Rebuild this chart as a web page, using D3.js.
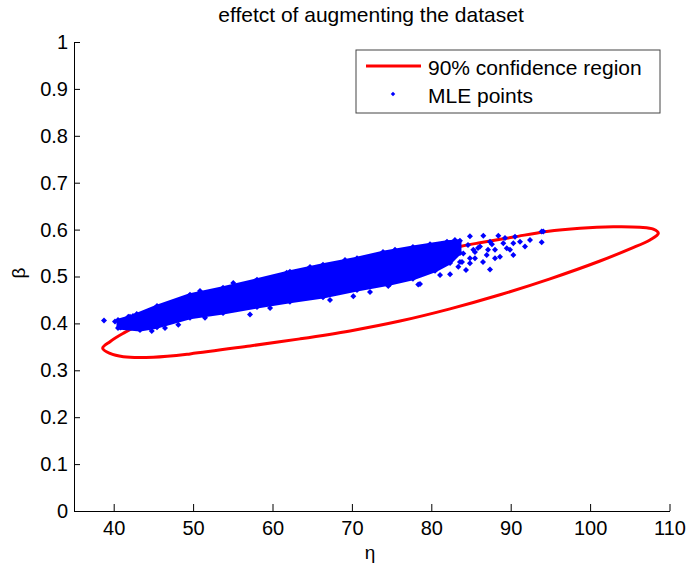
<!DOCTYPE html>
<html lang="en">
<head>
<meta charset="UTF-8">
<title>effetct of augmenting the dataset</title>
<script src="https://d3js.org/d3.v7.min.js"></script>
<style>
  body { margin: 0; background: #fff; }
  text { font-family: "Liberation Sans", Arial, Helvetica, sans-serif; fill: #000; }
</style>
</head>
<body>
<script>
// ---- data ----
var xTicks = [40, 50, 60, 70, 80, 90, 100, 110];
var yTicks = [0, 0.1, 0.2, 0.3, 0.4, 0.5, 0.6, 0.7, 0.8, 0.9, 1];
var legendLabels = ["90% confidence region", "MLE points"];

// 90% confidence region outline (eta, beta), going round once
var ellipseEta  = [38.61, 39.53, 41.21, 44.99, 49.61, 57.17, 63.46, 69.76, 76.06, 82.36,
                   88.65, 94.95, 101.25, 105.03, 107.54, 108.59,
                   107.96, 106.28, 102.92, 98.73, 94.53, 90.33, 86.13, 83.61, 76.06, 68.50,
                   60.94, 53.39, 47.09, 42.90, 41.21, 39.53];
var ellipseBeta = [0.347, 0.336, 0.329, 0.328, 0.335, 0.352, 0.367, 0.384, 0.405, 0.431,
                   0.461, 0.495, 0.533, 0.559, 0.578, 0.592,
                   0.601, 0.605, 0.606, 0.603, 0.596, 0.584, 0.572, 0.564, 0.535, 0.505,
                   0.473, 0.441, 0.414, 0.393, 0.379, 0.361];

// dense core of the MLE cloud: upper and lower edge
var coreUpperEta  = [40.54, 42.43, 45.45, 49.61, 53.77, 58.05, 62.20, 66.36, 70.64, 73.92, 77.69, 81.98, 83.61];
var coreUpperBeta = [0.407, 0.416, 0.437, 0.461, 0.476, 0.493, 0.510, 0.525, 0.539, 0.552, 0.563, 0.574, 0.576];
var coreLowerEta  = [40.54, 43.31, 45.45, 49.61, 53.77, 58.05, 62.20, 66.36, 70.64, 74.80, 77.69, 80.47, 82.36, 83.61];
var coreLowerBeta = [0.390, 0.386, 0.392, 0.412, 0.422, 0.435, 0.446, 0.456, 0.471, 0.484, 0.495, 0.512, 0.529, 0.550];

// loose MLE points around the core
var pointEta  = [38.78, 40.16, 40.88, 41.84, 42.05, 42.90, 43.73, 44.36, 44.79, 45.83,
                 48.14, 55.06, 57.17, 61.79, 70.18, 74.58, 78.36, 82.36, 83.40, 84.03,
                 84.87, 85.29, 85.50, 86.13, 86.55, 86.98, 87.39, 87.39, 88.02, 88.02,
                 88.44, 88.65, 89.07, 89.50, 90.33, 90.33, 90.54, 91.80, 93.90, 94.11, 93.90,
                 50.87, 57.80, 64.72, 69.13, 75.43, 79.84, 82.98, 84.87,
                 46.46, 51.50, 59.69, 67.24, 72.28, 78.58, 81.10,
                 81.73, 82.61, 83.61, 85.88, 89.28, 91.17, 92.43, 84.37, 86.51, 89.91,
                 84.62, 85.50, 83.87, 87.14, 84.87, 87.64];
var pointBeta = [0.406, 0.404, 0.391, 0.414, 0.414, 0.420, 0.404, 0.393, 0.384, 0.407,
                 0.397, 0.486, 0.419, 0.508, 0.458, 0.480, 0.483, 0.505, 0.521, 0.549,
                 0.528, 0.557, 0.539, 0.564, 0.587, 0.546, 0.574, 0.515, 0.557, 0.539,
                 0.587, 0.542, 0.571, 0.560, 0.571, 0.546, 0.585, 0.564, 0.596, 0.596, 0.573,
                 0.469, 0.490, 0.520, 0.535, 0.557, 0.569, 0.578, 0.586,
                 0.390, 0.412, 0.433, 0.450, 0.467, 0.484, 0.503,
                 0.539, 0.557, 0.531, 0.561, 0.582, 0.574, 0.578, 0.514, 0.531, 0.557,
                 0.567, 0.552, 0.531, 0.557, 0.539, 0.569];

var W = 689, H = 567;
var svg = d3.select("body").append("svg")
    .attr("width", W)
    .attr("height", H);

var x = d3.scaleLinear().domain([35, 110]).range([74, 669.5]);
var y = d3.scaleLinear().domain([0, 1]).range([511, 42]);

var toXY = d3.line()
    .x(function(d) { return x(d[0]); })
    .y(function(d) { return y(d[1]); });

// confidence ellipse first, the points go over it
var ellipse = ellipseEta.map(function(d, i) { return [d, ellipseBeta[i]]; });
svg.append("path")
    .datum(ellipse)
    .attr("fill", "none")
    .attr("stroke", "#ff0000")
    .attr("stroke-width", 3)
    .attr("d", toXY.curve(d3.curveCatmullRomClosed));

// dense core as a filled band
var upper = coreUpperEta.map(function(d, i) { return [d, coreUpperBeta[i]]; });
var lower = coreLowerEta.map(function(d, i) { return [d, coreLowerBeta[i]]; });
var core = upper.concat(lower.slice().reverse());
svg.append("path")
    .datum(core)
    .attr("fill", "#0000ff")
    .attr("stroke", "#0000ff")
    .attr("stroke-width", 3)
    .attr("stroke-linejoin", "round")
    .attr("d", toXY.curve(d3.curveLinearClosed));

// single markers (small diamonds)
var marker = d3.symbol().type(d3.symbolSquare).size(18);
var pts = pointEta.map(function(d, i) { return [d, pointBeta[i]]; }).concat(upper, lower);
svg.append("g")
    .selectAll("path")
    .data(pts)
    .join("path")
    .attr("d", marker)
    .attr("fill", "#0000ff")
    .attr("transform", function(d) {
        return "translate(" + x(d[0]) + "," + y(d[1]) + ") rotate(45)";
    });

// axes, ticks pointing inward like matlab
var xAxis = svg.append("g")
    .attr("transform", "translate(0," + y(0) + ")")
    .call(d3.axisBottom(x).tickValues(xTicks).tickFormat(function(d) { return d; })
        .tickSizeInner(-7).tickSizeOuter(0).tickPadding(10));
var yAxis = svg.append("g")
    .attr("transform", "translate(" + x(35) + ",0)")
    .call(d3.axisLeft(y).tickValues(yTicks).tickFormat(function(d) { return d; })
        .tickSizeInner(-6).tickSizeOuter(0).tickPadding(6));

[xAxis, yAxis].forEach(function(g) {
    g.attr("font-family", null).attr("font-size", 20);
    g.selectAll("path, line").attr("stroke", "#000");
});

// title and axis labels
svg.append("text")
    .attr("x", 371).attr("y", 22)
    .attr("text-anchor", "middle")
    .attr("font-size", 21)
    .text("effetct of augmenting the dataset");

svg.append("text")
    .attr("x", 370).attr("y", 559)
    .attr("text-anchor", "middle")
    .attr("font-size", 19)
    .text("η");

svg.append("text")
    .attr("transform", "translate(25,273) rotate(-90)")
    .attr("text-anchor", "middle")
    .attr("font-size", 19)
    .text("β");

// legend
var leg = svg.append("g");
leg.append("rect")
    .attr("x", 356).attr("y", 50)
    .attr("width", 304).attr("height", 63)
    .attr("fill", "#fff")
    .attr("stroke", "#444");
leg.append("line")
    .attr("x1", 366).attr("x2", 421)
    .attr("y1", 66).attr("y2", 66)
    .attr("stroke", "#ff0000")
    .attr("stroke-width", 3);
leg.append("path")
    .attr("d", d3.symbol().type(d3.symbolSquare).size(10))
    .attr("fill", "#0000ff")
    .attr("transform", "translate(393,94) rotate(45)");
leg.selectAll("text")
    .data(legendLabels)
    .join("text")
    .attr("x", 428)
    .attr("y", function(d, i) { return 75 + i * 28; })
    .attr("font-size", 21)
    .text(function(d) { return d; });
</script>
</body>
</html>
